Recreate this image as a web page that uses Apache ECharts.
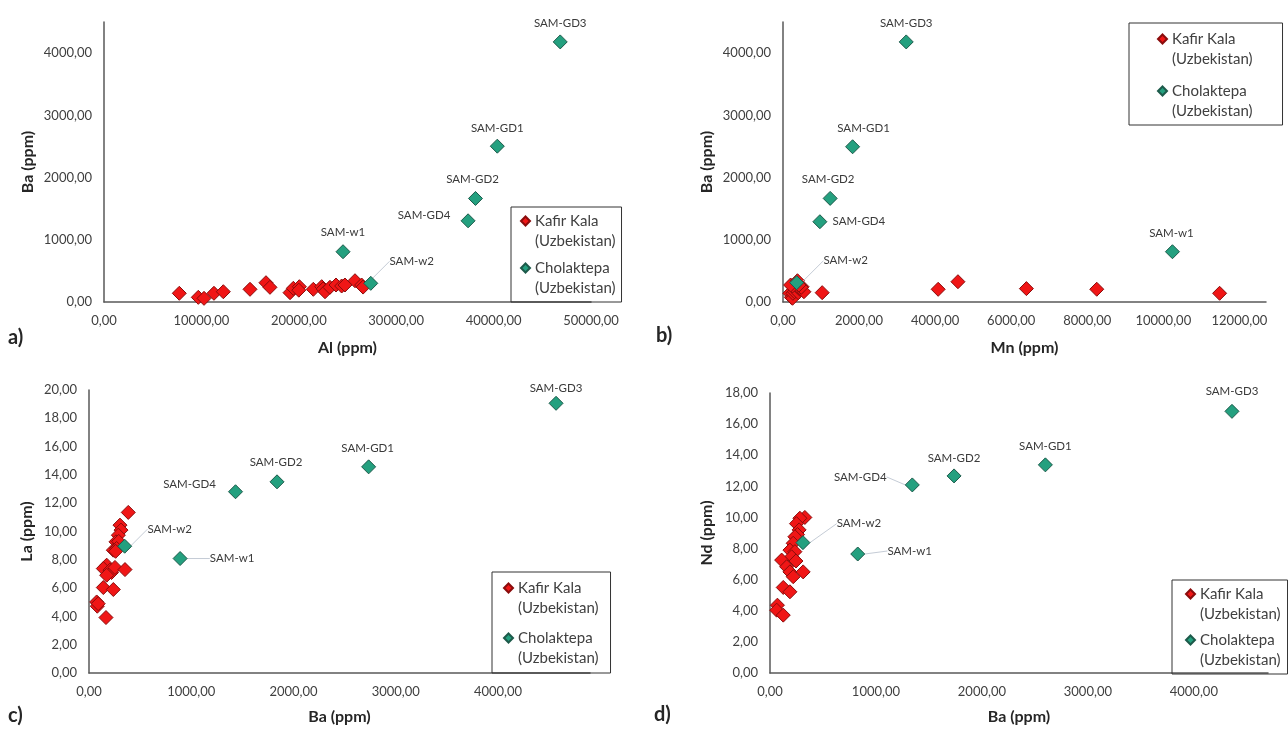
<!DOCTYPE html>
<html>
<head>
<meta charset="utf-8">
<script src="https://cdn.jsdelivr.net/npm/echarts@6/dist/echarts.min.js"></script>
<style>
html, body { margin: 0; padding: 0; background: #fff; }
#chart { width: 1288px; height: 729px; }
</style>
</head>
<body>
<div id="chart"></div>
<script>
// sample labels for the Cholaktepa points (same order in every panel)
var cholNames = ['SAM-GD3', 'SAM-GD1', 'SAM-GD2', 'SAM-GD4', 'SAM-w1', 'SAM-w2'];

// a) Al vs Ba
var kafirAlBa = [[7730,140],[9680,75],[10270,59],[11290,140],[12250,165],[14990,204],[16630,310],[17040,236],
  [19100,150],[19440,220],[20060,246],[20000,190],[21490,204],[22350,246],[22500,210],[22690,165],[23200,236],
  [23820,273],[24400,257],[24740,273],[25770,342],[26450,273],[26600,240]];
var cholAlBa = [[46840,4180],[40380,2504],[38140,1664],[37380,1305],[24540,808],[27390,300]];

// b) Mn vs Ba
var kafirMnBa = [[180,140],[220,75],[250,60],[260,140],[300,165],[330,204],[350,310],[280,236],[400,150],
  [420,220],[380,246],[450,204],[500,246],[550,165],[480,236],[300,273],[250,257],[200,273],[380,342],[420,273],
  [1030,150],[4080,204],[4600,326],[6400,215],[8250,205],[11480,140]];
var cholMnBa = [[3240,4180],[1830,2495],[1240,1665],[970,1290],[10240,808],[360,310]];

// c) Ba vs La
var kafirBaLa = [[384,11.35],[303,10.45],[313,10.1],[287,9.74],[264,9.27],[290,9.3],[238,8.68],[270,8.8],[260,8.6],
  [173,7.62],[140,7.38],[205,7.27],[220,7.1],[254,7.46],[352,7.31],[173,6.91],[140,6.04],[238,5.9],
  [75,5.02],[81,4.72],[90,4.9],[166,3.92]];
var cholBaLa = [[4568,19.06],[2735,14.57],[1839,13.51],[1433,12.81],[891,8.09],[349,8.96]];

// d) Ba vs Nd
var kafirBaNd = [[329,10.0],[282,9.95],[250,9.6],[275,9.2],[260,8.9],[235,8.76],[219,8.34],[188,7.9],[235,7.8],
  [204,7.47],[110,7.26],[245,7.2],[157,6.83],[188,6.5],[219,6.19],[313,6.5],[125,5.5],[188,5.22],
  [70,4.36],[63,4.04],[125,3.72]];
var cholBaNd = [[4360,16.82],[2599,13.38],[1737,12.67],[1343,12.09],[828,7.65],[311,8.38]];

var FONT = 'Lato, "Open Sans", sans-serif';
var ICON = 'path://M4.5,0L4.5,0M4.5,5.5L9,10L4.5,14.5L0,10ZM4.5,40L4.5,40';

function fmt(v) { return v.toFixed(2).replace('.', ','); }

function valAxis(gi, max, interval, name, gap, showMax) {
  return {
    type: 'value', gridIndex: gi, min: 0, max: max, interval: interval,
    name: name, nameLocation: 'middle', nameGap: gap,
    nameTextStyle: { fontFamily: FONT, fontWeight: 'bold', fontSize: 16, color: '#262626' },
    axisLine: { show: true, onZero: false, lineStyle: { color: '#595959', width: 1.5 } },
    axisTick: { show: false },
    splitLine: { show: false },
    axisLabel: { fontFamily: FONT, fontSize: 13, color: '#404040', margin: 12, formatter: fmt, showMaxLabel: showMax }
  };
}

function kafir(gi, data) {
  return {
    name: 'Kafir Kala', type: 'scatter', xAxisIndex: gi, yAxisIndex: gi,
    symbol: 'diamond', symbolSize: 14,
    itemStyle: { color: '#f01616', borderColor: '#8a0c0c', borderWidth: 1, opacity: 1 },
    data: data
  };
}

function chol(gi, data, offs, lines) {
  return {
    name: 'Cholaktepa', type: 'scatter', xAxisIndex: gi, yAxisIndex: gi,
    symbol: 'diamond', symbolSize: 14,
    itemStyle: { color: '#24a07f', borderColor: '#1d5a4a', borderWidth: 1, opacity: 1 },
    label: { show: true, position: 'inside', formatter: '{b}', fontFamily: FONT, fontSize: 11.5,
      color: '#3a3a3a', textBorderWidth: 0 },
    labelLine: { show: false, lineStyle: { color: '#c5ccd6', width: 1 } },
    labelLayout: function (p) { return { dx: offs[p.dataIndex][0], dy: offs[p.dataIndex][1] }; },
    data: data.map(function (v, i) {
      return { name: cholNames[i], value: v, labelLine: { show: lines.indexOf(i) >= 0 } };
    }),
    z: 3
  };
}

function legendAt(left, top, gap, padding) {
  return {
    left: left, top: top, orient: 'vertical', itemGap: gap, padding: padding,
    itemWidth: 9, itemHeight: 40, selectedMode: false,
    borderColor: '#333', borderWidth: 1,
    formatter: function (n) { return n + '\n(Uzbekistan)'; },
    textStyle: { fontFamily: FONT, fontSize: 15, lineHeight: 20, color: '#404040' },
    data: [{ name: 'Kafir Kala', icon: ICON }, { name: 'Cholaktepa', icon: ICON }]
  };
}

function letter(t, x, y) {
  return { type: 'text', left: x, top: y,
    style: { text: t, font: 'bold 20px ' + FONT, fill: '#262626' } };
}

var chart = echarts.init(document.getElementById('chart'));
chart.setOption({
  backgroundColor: '#fff',
  animation: false,
  grid: [
    { left: 104, top: 22, width: 487, height: 280, outerBoundsMode: 'none' },
    { left: 783, top: 22, width: 483, height: 280, outerBoundsMode: 'none' },
    { left: 89, top: 390, width: 501, height: 283, outerBoundsMode: 'none' },
    { left: 770, top: 393, width: 498, height: 280, outerBoundsMode: 'none' }
  ],
  xAxis: [
    valAxis(0, 50000, 10000, 'Al (ppm)', 38, true),
    valAxis(1, 12700, 2000, 'Mn (ppm)', 38, false),
    valAxis(2, 4900, 1000, 'Ba (ppm)', 36, false),
    valAxis(3, 4700, 1000, 'Ba (ppm)', 36, false)
  ],
  yAxis: [
    valAxis(0, 4500, 1000, 'Ba (ppm)', 68, false),
    valAxis(1, 4500, 1000, 'Ba (ppm)', 68, false),
    valAxis(2, 20, 2, 'La (ppm)', 54, true),
    valAxis(3, 18, 2, 'Nd (ppm)', 55, true)
  ],
  legend: [
    legendAt(511, 207, 5, [3, 6, 3, 9]),
    legendAt(1129, 23, 10, [5, 30, 3, 28]),
    legendAt(492, 572, 8, [5, 12, 4, 11]),
    legendAt(1172, 580, 4, [3, 7, 3, 13])
  ],
  graphic: [
    letter('a)', 8, 328),
    letter('b)', 656, 326),
    letter('c)', 8, 706),
    letter('d)', 654, 705)
  ],
  series: [
    kafir(0, kafirAlBa),
    chol(0, cholAlBa, [[0,-19],[0,-18],[-3,-19],[-44,-6],[0,-19],[41,-22]], [5]),
    kafir(1, kafirMnBa),
    chol(1, cholMnBa, [[0,-19],[11,-18],[-2,-19],[39,0],[-1,-18],[49,-22]], [5]),
    kafir(2, kafirBaLa),
    chol(2, cholBaLa, [[0,-15],[-1,-19],[-1,-20],[-46,-7],[52,0],[45,-17]], [4, 5]),
    kafir(3, kafirBaNd),
    chol(3, cholBaNd, [[0,-20],[0,-19],[0,-18],[-52,-8],[52,-3],[56,-19]], [3, 4, 5])
  ]
});
</script>
</body>
</html>
